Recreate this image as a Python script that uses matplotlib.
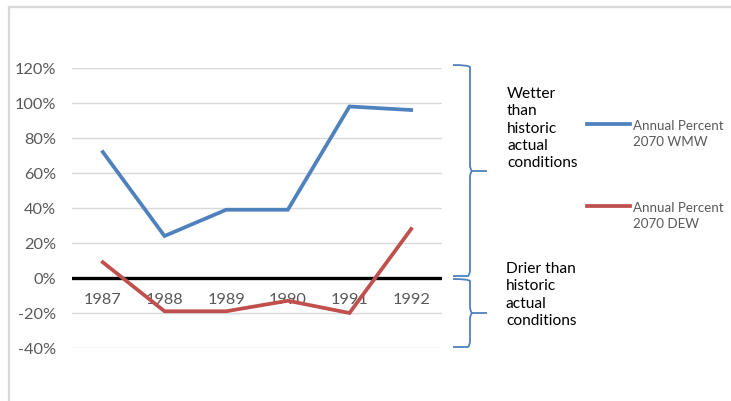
import matplotlib
matplotlib.use("Agg")
import matplotlib.pyplot as plt
from matplotlib.lines import Line2D
from matplotlib.path import Path
from matplotlib.patches import PathPatch

years = ["1987", "1988", "1989", "1990", "1991", "1992"]
wmw = [0.72, 0.24, 0.39, 0.39, 0.98, 0.96]
dew = [0.09, -0.19, -0.19, -0.13, -0.20, 0.28]
yticks = [-0.4, -0.2, 0.0, 0.2, 0.4, 0.6, 0.8, 1.0, 1.2]
series_names = ["Annual Percent\n2070 WMW", "Annual Percent\n2070 DEW"]
wet_text = "Wetter\nthan\nhistoric\nactual\nconditions"
dry_text = "Drier than\nhistoric\nactual\nconditions"

W, H = 731, 402
plt.rcParams['font.family'] = ['Lato', 'DejaVu Sans']
fig = plt.figure(figsize=(W / 100, H / 100), dpi=100)

def fx(px):
    return px / W

def fy(py):
    return 1 - py / H

# outer frame
fig.add_artist(Line2D([fx(9), fx(731)], [fy(8), fy(8)], color="#d9d9d9", lw=1.6))
fig.add_artist(Line2D([fx(9), fx(9)], [fy(8), fy(402)], color="#d9d9d9", lw=1.6))

ax = fig.add_axes([fx(72), fy(349), fx(442) - fx(72), fy(69) - fy(349)])
x = list(range(len(years)))
ax.set_xlim(-0.5, len(years) - 0.5)
ax.set_ylim(-0.4, 1.2)
for t in yticks:
    if t != 0:
        ax.axhline(t, color="#d9d9d9", lw=1.0, zorder=1)
ax.axhline(0, color="black", lw=2.4, zorder=2)
ax.plot(x, wmw, color="#4f81bd", lw=2.7, zorder=3, clip_on=False, solid_joinstyle="miter")
ax.plot(x, dew, color="#c0504d", lw=2.7, zorder=3, clip_on=False, solid_joinstyle="miter")
for s in ax.spines.values():
    s.set_visible(False)
ax.set_xticks([])
ax.set_yticks(yticks)
ax.set_yticklabels([f"{int(round(t*100))}%" for t in yticks], color="#595959", fontsize=11.8)
ax.tick_params(axis="y", length=0, pad=11.5)
for xi, lab in zip(x, years):
    ax.text(xi, -0.12, lab, ha="center", va="center", color="#595959", fontsize=11.8, zorder=2.5)

# legend
for (ly, name, col) in [(125, series_names[0], "#4f81bd"), (207, series_names[1], "#c0504d")]:
    fig.add_artist(Line2D([fx(587), fx(630)], [fy(ly), fy(ly)], color=col, lw=2.7))
    fig.text(fx(633), fy(ly - 5), name, ha="left", va="top", color="#595959",
             fontsize=9.6, linespacing=1.4)

# braces
def brace(y0, y1, ym, xt=453, xs=470, xm=487, r=6):
    verts = [
        (xt, y0), (xs - 2, y0), (xs, y0 + 2), (xs, y0 + r),
        (xs, ym - r), (xs, ym - 2), (xs + 2, ym), (xm, ym),
        (xs + 2, ym), (xs, ym + 2), (xs, ym + r),
        (xs, y1 - r), (xs, y1 - 2), (xs - 2, y1), (xt, y1),
    ]
    codes = [Path.MOVETO, Path.CURVE3, Path.CURVE3, Path.LINETO,
             Path.LINETO, Path.CURVE3, Path.CURVE3, Path.LINETO,
             Path.MOVETO, Path.CURVE3, Path.CURVE3,
             Path.LINETO, Path.CURVE3, Path.CURVE3, Path.LINETO]
    pv = [(fx(a), fy(b)) for a, b in verts]
    fig.add_artist(PathPatch(Path(pv, codes), fill=False, edgecolor="#4f81bd", lw=1.3,
                             transform=fig.transFigure))

brace(66, 277, 172)
brace(280, 348, 314)

fig.text(fx(507), fy(87), wet_text, ha="left", va="top", fontsize=11.2, color="black", linespacing=1.3)
fig.text(fx(506), fy(262), dry_text, ha="left", va="top", fontsize=11.2, color="black", linespacing=1.3)

fig.savefig("out.png", dpi=100)
